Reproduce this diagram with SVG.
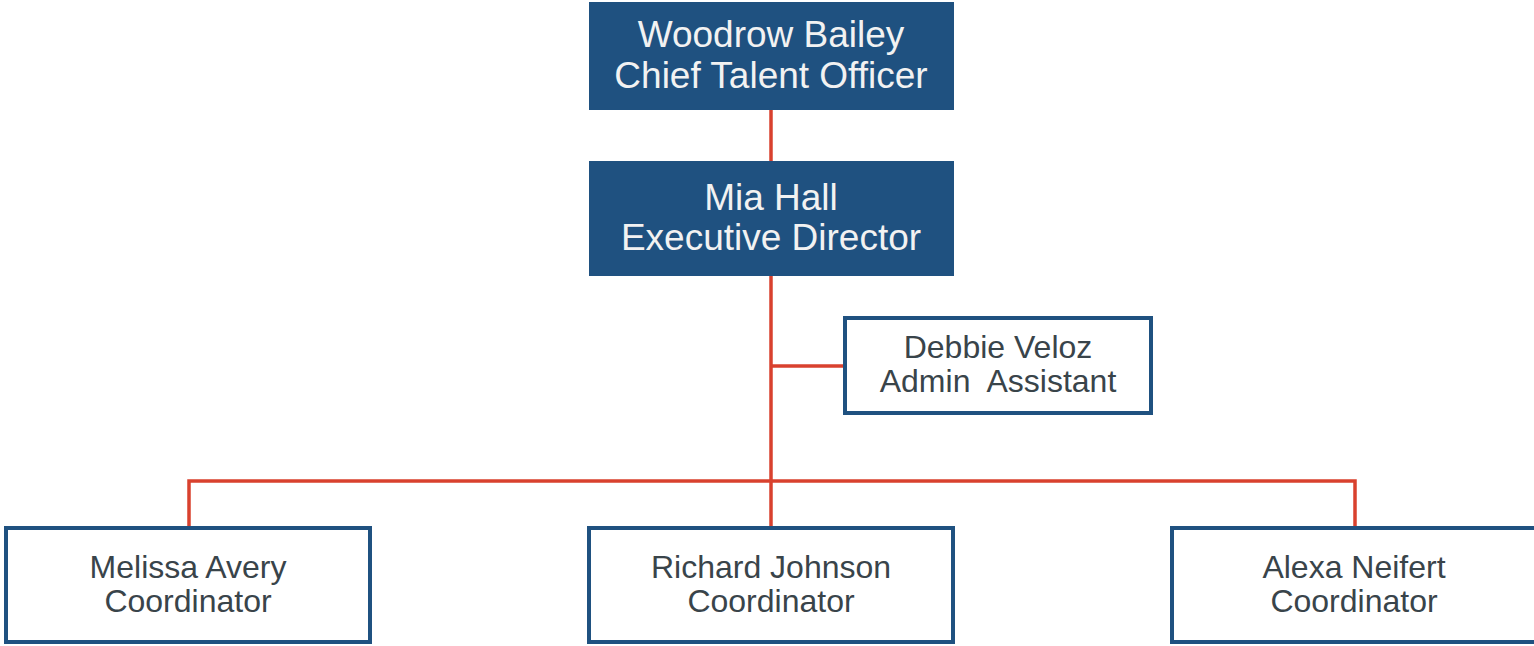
<svg xmlns="http://www.w3.org/2000/svg" width="1534" height="646" viewBox="0 0 1534 646">
<style>
.filled{fill:#1F5180;}
.outline{fill:#FFFFFF;stroke:#1F5180;stroke-width:4;}
.conn{stroke:#D9412E;stroke-width:3.5;fill:none;}
.tw{font-family:"Liberation Sans",Arial,sans-serif;font-size:37px;fill:#F2F2F2;text-anchor:middle;}
.td{font-family:"Liberation Sans",Arial,sans-serif;font-size:32px;fill:#39444A;text-anchor:middle;}
</style>
<rect width="1534" height="646" fill="#FFFFFF"/>
<g id="connectors">
<line class="conn" x1="771" y1="110" x2="771" y2="161"/>
<line class="conn" x1="771" y1="276" x2="771" y2="527"/>
<line class="conn" x1="771" y1="366" x2="845" y2="366"/>
<polyline class="conn" points="189,527 189,481 1355,481 1355,527"/>
</g>
<g id="woodrow">
<rect class="filled" x="589" y="2" width="365" height="108"/>
<text class="tw" x="771" y="47">Woodrow Bailey</text>
<text class="tw" x="771" y="88">Chief Talent Officer</text>
</g>
<g id="mia">
<rect class="filled" x="589" y="161" width="365" height="115"/>
<text class="tw" x="771" y="210">Mia Hall</text>
<text class="tw" x="771" y="250">Executive Director</text>
</g>
<g id="debbie">
<rect class="outline" x="845" y="318" width="306" height="95"/>
<text class="td" x="998" y="358">Debbie Veloz</text>
<text class="td" x="998" y="392" xml:space="preserve">Admin  Assistant</text>
</g>
<g id="melissa">
<rect class="outline" x="6" y="528" width="364" height="114"/>
<text class="td" x="188" y="578">Melissa Avery</text>
<text class="td" x="188" y="612">Coordinator</text>
</g>
<g id="richard">
<rect class="outline" x="589" y="528" width="364" height="114"/>
<text class="td" x="771" y="578">Richard Johnson</text>
<text class="td" x="771" y="612">Coordinator</text>
</g>
<g id="alexa">
<rect class="outline" x="1172" y="528" width="364" height="114"/>
<text class="td" x="1354" y="578">Alexa Neifert</text>
<text class="td" x="1354" y="612">Coordinator</text>
</g>
</svg>
